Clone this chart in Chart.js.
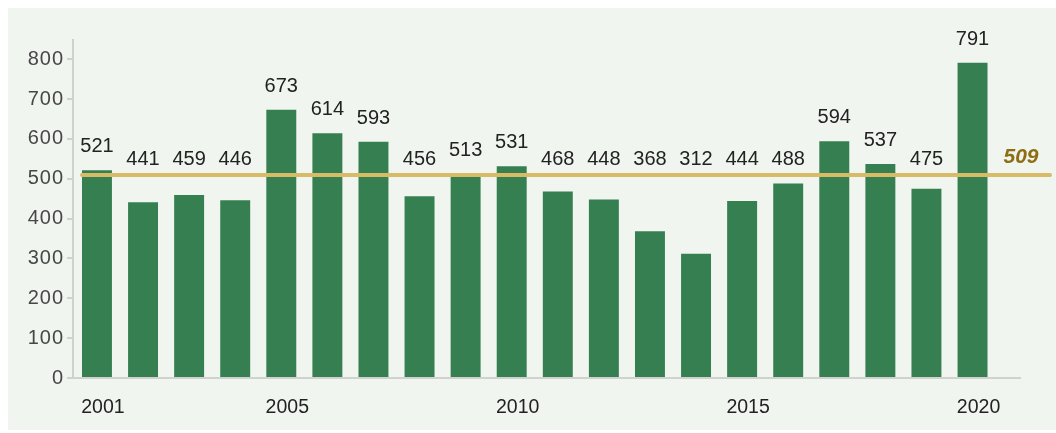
<!DOCTYPE html>
<html>
<head>
<meta charset="utf-8">
<script src="https://cdn.jsdelivr.net/npm/chart.js@4"></script>
<style>
  html, body { margin: 0; padding: 0; background: #fff; }
  #panel { position: absolute; left: 8px; top: 8px; width: 1048px; height: 422px; background: #f1f5f0; }
</style>
</head>
<body>
<div id="panel"><canvas id="chart" width="1048" height="422"></canvas></div>
<script>
const years = [2001, 2002, 2003, 2004, 2005, 2006, 2007, 2008, 2009, 2010,
               2011, 2012, 2013, 2014, 2015, 2016, 2017, 2018, 2019, 2020];
const counts = [521, 441, 459, 446, 673, 614, 593, 456, 513, 531,
                468, 448, 368, 312, 444, 488, 594, 537, 475, 791];
const average = 509;
const xTickYears = [2001, 2005, 2010, 2015, 2020];
const yTickValues = [0, 100, 200, 300, 400, 500, 600, 700, 800];

const fontFamily = '"Liberation Sans", Arial, sans-serif';

// value labels above bars, kept above the average line
const valueLabels = {
    id: 'valueLabels',
    afterDatasetsDraw(chart) {
        const ctx = chart.ctx;
        const yScale = chart.scales.y;
        const lineY = yScale.getPixelForValue(average);
        const meta = chart.getDatasetMeta(0);
        ctx.save();
        ctx.font = '20px ' + fontFamily;
        ctx.fillStyle = '#222';
        ctx.textAlign = 'center';
        ctx.textBaseline = 'alphabetic';
        meta.data.forEach((bar, i) => {
            const bottom = Math.min(bar.y - 18, lineY - 10);
            ctx.fillText(counts[i], bar.x, bottom);
        });
        ctx.restore();
    }
};

// average line + its label
const averageLine = {
    id: 'averageLine',
    afterDatasetsDraw(chart) {
        const ctx = chart.ctx;
        const y = chart.scales.y.getPixelForValue(average);
        const first = chart.getDatasetMeta(0).data[0];
        const x0 = first.x - first.width / 2;
        const x1 = chart.chartArea.right + 30;
        ctx.save();
        ctx.strokeStyle = '#d8bb66';
        ctx.lineWidth = 4;
        ctx.lineCap = 'round';
        ctx.beginPath();
        ctx.moveTo(x0, y);
        ctx.lineTo(x1, y);
        ctx.stroke();
        ctx.font = 'italic bold 21px ' + fontFamily;
        ctx.fillStyle = '#8d6e12';
        ctx.textAlign = 'center';
        ctx.fillText(average, chart.chartArea.right + 1, y - 12);
        ctx.restore();
    }
};

// y tick labels in the original are set a bit wider
function spaceOutLabels(scale) {
    if (scale._spaced) return;
    scale._spaced = true;
    const orig = scale.drawLabels;
    scale.drawLabels = function (area) {
        const ctx = this.ctx;
        ctx.save();
        ctx.letterSpacing = '1px';
        orig.call(this, area);
        ctx.restore();
    };
}

new Chart(document.getElementById('chart'), {
    type: 'bar',
    data: {
        datasets: [{
            data: years.map((yr, i) => ({ x: yr, y: counts[i] })),
            backgroundColor: '#357f51',
            borderWidth: 0,
            barPercentage: 0.65,
            categoryPercentage: 1
        }]
    },
    options: {
        responsive: false,
        animation: false,
        layout: { padding: { top: 32, right: 36, left: 0, bottom: 0 } },
        plugins: {
            legend: { display: false },
            tooltip: { enabled: false }
        },
        scales: {
            x: {
                type: 'linear',
                offset: false,
                bounds: 'data',
                min: 2000.48,
                max: 2021.03,
                grid: { display: false },
                border: { display: true, color: '#cfd2cf', width: 2 },
                afterBuildTicks: scale => { scale.ticks = xTickYears.map(v => ({ value: v })); },
                afterFit: scale => { scale.height = 52; },
                ticks: {
                    autoSkip: false,
                    maxRotation: 0,
                    padding: 10,
                    labelOffset: 6,
                    color: '#222',
                    font: { family: fontFamily, size: 19.5 },
                    callback: v => String(v)
                }
            },
            y: {
                min: 0,
                max: 848,
                grid: { display: true, drawOnChartArea: false, drawTicks: true, tickLength: 6, color: '#cfd2cf', lineWidth: 2 },
                border: { display: true, color: '#cfd2cf', width: 2 },
                afterBuildTicks: scale => { scale.ticks = yTickValues.map(v => ({ value: v })); },
                afterFit: scale => { scale.width = 65; spaceOutLabels(scale); },
                ticks: {
                    padding: 3,
                    color: '#474747',
                    font: { family: fontFamily, size: 20 }
                }
            }
        }
    },
    plugins: [valueLabels, averageLine]
});
</script>
</body>
</html>
